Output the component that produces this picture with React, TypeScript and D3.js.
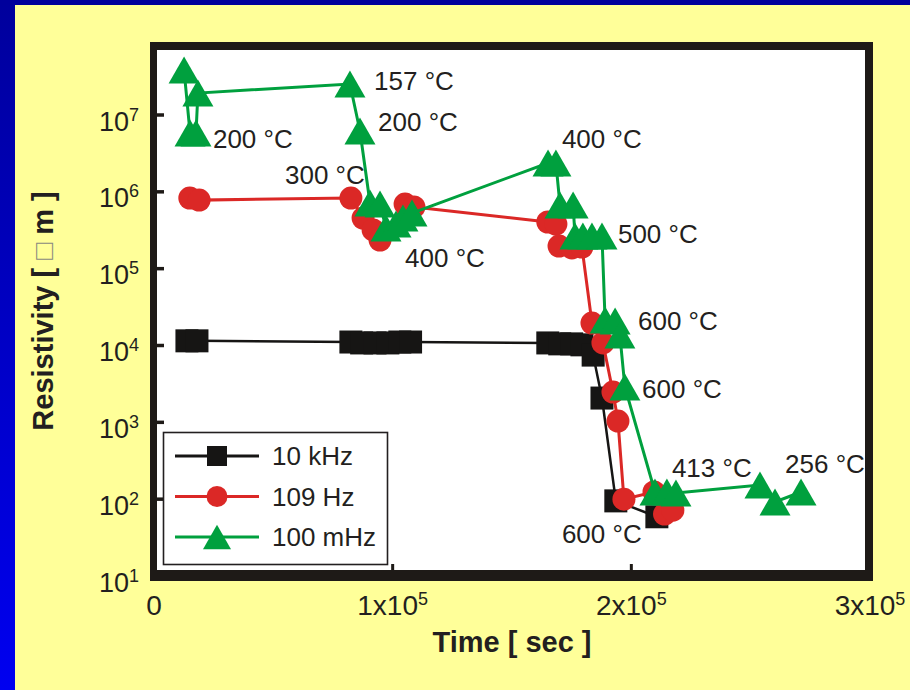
import * as d3 from "d3";

// 10 kHz series (time in sec, resistivity)
const kHzTime = [13800, 18000, 82500, 87000, 92600, 98000, 103000, 107500, 165000, 170000, 175000, 179300, 184000, 187700, 193500, 210700];
const kHzRes = [1.15e4, 1.15e4, 1.11e4, 1.08e4, 1.08e4, 1.08e4, 1.11e4, 1.11e4, 1.08e4, 1.05e4, 1.05e4, 1.02e4, 7.5e3, 2.07e3, 95, 59];

// 109 Hz series
const hzTime = [15000, 18900, 82500, 87600, 91800, 94700, 105200, 108900, 165000, 168400, 169700, 175100, 179300, 183500, 188100, 192300, 194400, 196900, 209500, 213900, 217400];
const hzRes = [8.3e5, 7.8e5, 8.3e5, 4.56e5, 3.19e5, 2.36e5, 6.94e5, 6.35e5, 4.05e5, 3.81e5, 1.97e5, 1.86e5, 1.91e5, 1.96e4, 1.08e4, 2.48e3, 1.04e3, 100, 124, 64, 72];

// 100 mHz series
const mHzTime = [12600, 15100, 17600, 18400, 82100, 86300, 90500, 94700, 97200, 101400, 104300, 108100, 165100, 168400, 170100, 175600, 176400, 179700, 183500, 187700, 189000, 193200, 195200, 197300, 209900, 214900, 218700, 253900, 260200, 271100];
const mHzRes = [3.85e7, 5.83e6, 5.83e6, 1.93e7, 2.53e7, 6.19e6, 7.15e5, 6.94e5, 3.38e5, 3.81e5, 4.56e5, 5.3e5, 2.37e6, 2.37e6, 6.74e5, 6.74e5, 2.66e5, 2.66e5, 2.66e5, 2.66e5, 2.15e4, 2.08e4, 1.37e4, 2.88e3, 124, 124, 120, 153, 92, 124];

const legendNames = ["10 kHz", "109 Hz", "100 mHz"];

// temperature notes, anchored at (time, resistivity)
const noteText = ["157 °C", "200 °C", "200 °C", "300 °C", "400 °C", "400 °C", "500 °C", "600 °C", "600 °C", "413 °C", "256 °C", "600 °C"];
const noteTime = [92200, 93900, 24700, 54900, 105200, 170900, 194400, 202800, 204500, 217000, 264400, 170900];
const noteRes = [2.12e7, 6.19e6, 3.72e6, 1.27e6, 1.05e5, 3.72e6, 2.16e5, 1.59e4, 2.07e3, 194, 219, 26.9];

const yTicks = [1e1, 1e2, 1e3, 1e4, 1e5, 1e6, 1e7];
const yExp = ["1", "2", "3", "4", "5", "6", "7"];
const xTicks = [0, 1e5, 2e5, 3e5];
const xBase = ["0", "1x10", "2x10", "3x10"];
const xExp = ["", "5", "5", "5"];

const W = 910;
const H = 690;
const FONT = "'Liberation Sans', Arial, sans-serif";
const INK = "#231f20";
const FRAME = "#1e1a17";

const x = d3.scaleLinear().domain([0, 3e5]).range([154, 870]);
const y = d3.scaleLog().domain([10, 1e7]).range([576, 115]);

const tri = (s: number) => `M0,${-s * 0.87}L${s},${s * 0.87}L${-s},${s * 0.87}Z`;

type Series = { t: number[]; r: number[]; color: string; width: number; kind: string };

const series: Series[] = [
  { t: kHzTime, r: kHzRes, color: "#161514", width: 2.5, kind: "square" },
  { t: hzTime, r: hzRes, color: "#db2826", width: 3, kind: "circle" },
  { t: mHzTime, r: mHzRes, color: "#00a03e", width: 3, kind: "triangle" },
];

function Marker({ kind, cx, cy, color, size }: { kind: string; cx: number; cy: number; color: string; size: number }) {
  if (kind === "square")
    return <rect x={cx - size / 2} y={cy - size / 2} width={size} height={size} fill={color} />;
  if (kind === "circle") return <circle cx={cx} cy={cy} r={size / 2} fill={color} />;
  return <path d={tri(size / 2)} transform={`translate(${cx},${cy})`} fill={color} />;
}

export default function App() {
  return (
    <svg
      width={W}
      height={H}
      style={{ position: "absolute", left: 0, top: 0, display: "block" }}
      fontFamily={FONT}
    >
      <defs>
        <linearGradient id="side" x1="0" y1="0" x2="0" y2="1">
          <stop offset="0" stopColor="#00009c" />
          <stop offset="1" stopColor="#0000f0" />
        </linearGradient>
      </defs>
      <rect width={W} height={H} fill="#ffff99" />
      <rect x={0} y={0} width={15} height={H} fill="url(#side)" />
      <rect x={0} y={0} width={W} height={5} fill="#00009c" />

      {/* plot area */}
      <rect x={150} y={42} width={723} height={539} fill="#ffffff" />

      {/* y ticks */}
      {yTicks.slice(1).map((v) => (
        <line key={v} x1={156} x2={164} y1={y(v)} y2={y(v)} stroke={FRAME} strokeWidth={3.5} />
      ))}
      {/* x ticks */}
      {xTicks.slice(1, 3).map((v) => (
        <line key={v} x1={x(v)} x2={x(v)} y1={564} y2={572} stroke={FRAME} strokeWidth={3} />
      ))}

      {/* series */}
      {series.map((s, si) => {
        const pts: [number, number][] = s.t.map((t, i) => [x(t), y(s.r[i])]);
        const path = d3.line()(pts) || "";
        const size = s.kind === "triangle" ? 31 : 23;
        return (
          <g key={si}>
            <path d={path} fill="none" stroke={s.color} strokeWidth={s.width} />
            {pts.map(([px, py], i) => (
              <Marker key={i} kind={s.kind} cx={px} cy={py} color={s.color} size={size} />
            ))}
          </g>
        );
      })}

      {/* notes */}
      {noteText.map((txt, i) => (
        <text key={i} x={x(noteTime[i])} y={y(noteRes[i])} fontSize={26} fill={INK}>
          {txt}
        </text>
      ))}

      {/* legend */}
      <g>
        <rect x={163.5} y={432.5} width={224} height={132} fill="#ffffff" stroke={INK} strokeWidth={1.6} />
        {series.map((s, i) => {
          const ly = 456 + i * 40.5;
          const size = s.kind === "square" ? 20 : s.kind === "circle" ? 21 : 28;
          return (
            <g key={i}>
              <line x1={175} x2={259} y1={ly} y2={ly} stroke={s.color} strokeWidth={3} />
              <Marker kind={s.kind} cx={217} cy={ly} color={s.color} size={size} />
              <text x={272} y={ly + 9} fontSize={26} fill={INK}>
                {legendNames[i]}
              </text>
            </g>
          );
        })}
      </g>

      {/* frame */}
      <rect x={150} y={42} width={723} height={8} fill={FRAME} />
      <rect x={150} y={42} width={7} height={539} fill={FRAME} />
      <rect x={865} y={42} width={8} height={539} fill={FRAME} />
      <rect x={150} y={570} width={723} height={11} fill={FRAME} />

      {/* y tick labels */}
      {yTicks.map((v, i) => (
        <text key={v} x={139} y={y(v) + 15.5} fontSize={27} fill={INK} textAnchor="end">
          10
          <tspan dy={-10} fontSize={18}>
            {yExp[i]}
          </tspan>
        </text>
      ))}

      {/* x tick labels */}
      {xTicks.map((v, i) => (
        <text key={v} x={x(v)} y={615} fontSize={28} fill={INK} textAnchor="middle">
          {xBase[i]}
          {xExp[i] && (
            <tspan dy={-10} fontSize={18}>
              {xExp[i]}
            </tspan>
          )}
        </text>
      ))}

      {/* axis titles */}
      <text x={512} y={652} fontSize={29} fontWeight="bold" fill={INK} textAnchor="middle">
        Time [ sec ]
      </text>
      <text
        transform="translate(53,311) rotate(-90)"
        fontSize={29}
        fontWeight="bold"
        fill={INK}
        textAnchor="middle"
      >
        Resistivity [ <tspan fontWeight="normal" fill="#8a8a80" fontSize={28}>□</tspan> m ]
      </text>
    </svg>
  );
}
